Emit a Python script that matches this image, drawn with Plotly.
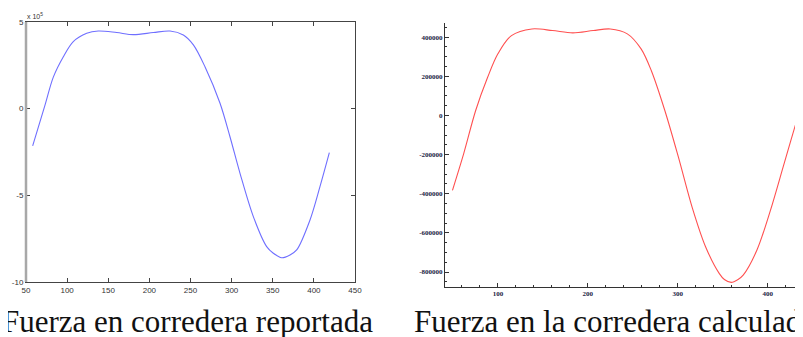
import plotly.graph_objects as go

# Reported force (left, units of 1e5 N)
x_rep = [58.1, 73.1, 83.2, 95.4, 107.5, 123.8, 137.9, 160.3, 180.5, 204.8, 225.1, 241.3,
         253.5, 267.6, 285.9, 298.0, 310.2, 326.4, 342.6, 350.7, 360.9, 371.0, 379.1, 395.3,
         407.4, 418.8]
f_rep = [-2.15, 0.2, 1.82, 3.0, 3.87, 4.35, 4.48, 4.39, 4.27, 4.39, 4.48, 4.25,
         3.68, 2.42, 0.31, -1.62, -3.73, -6.23, -7.96, -8.34, -8.6, -8.44, -8.15, -6.42,
         -4.5, -2.54]

# Calculated force (right, N)
x_calc = [49.5, 62.0, 75.3, 88.6, 100.0, 115.1, 137.8, 160.6, 183.3, 206.0, 225.0, 243.9,
          259.2, 270.5, 285.6, 300.7, 315.9, 331.0, 346.2, 351.8, 359.4, 367.0, 372.7, 387.9,
          403.0, 418.2, 433.3, 447.7]
f_calc = [-382600, -195000, 25500, 195000, 315000, 408000, 442000, 434000, 422000, 434000,
          442000, 417000, 340000, 230000, 25500, -213000, -468000, -672000, -808000,
          -838000, -853000, -838000, -816000, -689000, -485000, -246000, -8700, 213000]

left_yticks = [5, 0, -5, -10]
left_xticks = [50, 100, 150, 200, 250, 300, 350, 400, 450]
right_yticks = [400000, 200000, 0, -200000, -400000, -600000, -800000]
right_xticks = [100, 200, 300, 400]

W, H = 803, 337
OFF = 8  # page body margin

def px(x):
    return (x - OFF) / W
def py(y):
    return 1 - (y - OFF) / H

fig = go.Figure()
fig.add_trace(go.Scatter(x=x_rep, y=f_rep, mode="lines",
                         line=dict(color="#6f6fff", width=1.1, shape="spline", smoothing=0.9),
                         xaxis="x", yaxis="y", showlegend=False))
fig.add_trace(go.Scatter(x=x_calc, y=f_calc, mode="lines",
                         line=dict(color="#ff5050", width=1.1, shape="spline", smoothing=0.9),
                         xaxis="x2", yaxis="y2", showlegend=False))

lab_font = dict(family="Liberation Sans Narrow, Liberation Sans, Arial", size=8, color="#333333")
mm_font = dict(family="Liberation Serif", size=7, color="#222244", weight="bold")

fig.update_layout(
    width=W, height=H, margin=dict(l=0, r=0, t=0, b=0, autoexpand=False),
    paper_bgcolor="white", plot_bgcolor="white",
    # left: MATLAB-style box
    xaxis=dict(domain=[px(26), px(355)], range=[50, 450], tickvals=left_xticks, automargin=False,
               ticks="inside", ticklen=4, tickcolor="#444", showline=True, linecolor="#444",
               linewidth=1, mirror="ticks", showgrid=False, zeroline=False, tickfont=lab_font),
    yaxis=dict(domain=[py(282), py(22)], range=[-10, 5], tickvals=left_yticks, automargin=False,
               ticktext=[str(v) for v in left_yticks], anchor="x",
               ticks="inside", ticklen=4, tickcolor="#444", showline=True, linecolor="#444",
               linewidth=1, mirror="ticks", showgrid=False, zeroline=False, tickfont=lab_font),
    # right: Mathematica-style frame
    xaxis2=dict(domain=[px(445), px(811)], range=[41.2, 448.1], tickvals=right_xticks, anchor="y2",
                automargin=False,
                ticks="inside", ticklen=4, tickcolor="#333", showline=True, linecolor="#333",
                linewidth=1, showgrid=False, zeroline=False, tickfont=mm_font,
                minor=dict(ticks="inside", dtick=20, tick0=0, ticklen=2, tickcolor="#333")),
    xaxis3=dict(domain=[px(445), px(811)], range=[41.2, 448.1], anchor="y2", overlaying="x2",
                side="top", automargin=False,
                ticks="inside", ticklen=2, tickcolor="#999", dtick=20, tick0=0, showticklabels=False,
                showline=True, linecolor="#9a9a9a", linewidth=1.5, showgrid=False, zeroline=False),
    yaxis2=dict(domain=[py(286.7), py(22.7)], range=[-875000, 474000], tickvals=right_yticks,
                ticktext=[str(v) for v in right_yticks], anchor="x2", automargin=False,
                ticks="inside", ticklen=4, tickcolor="#333", showline=True, linecolor="#333",
                linewidth=1, showgrid=False, zeroline=False, tickfont=mm_font,
                minor=dict(ticks="inside", dtick=50000, tick0=0, ticklen=2, tickcolor="#333")),
)

# thick grey left edge of the MATLAB box
fig.add_shape(type="line", xref="paper", yref="paper", x0=px(26), x1=px(26), y0=py(282), y1=py(22),
              line=dict(color="#a8a8a8", width=2.5))

fig.add_annotation(xref="paper", yref="paper", x=px(25), y=py(16), xanchor="left", yanchor="middle",
                   text="x 10<sup>5</sup>", showarrow=False,
                   font=dict(family="Liberation Sans Narrow, Liberation Sans, Arial", size=7, color="#333"))

cap_font = dict(family="Liberation Serif", size=31, color="#111")
fig.add_annotation(xref="paper", yref="paper", x=px(0), y=py(321), xanchor="left", yanchor="middle",
                   text="Fuerza en corredera reportada", showarrow=False, font=cap_font)
fig.add_annotation(xref="paper", yref="paper", x=px(412), y=py(321), xanchor="left", yanchor="middle",
                   text="Fuerza en la corredera calculada", showarrow=False, font=cap_font)

fig.write_html("out.html")
